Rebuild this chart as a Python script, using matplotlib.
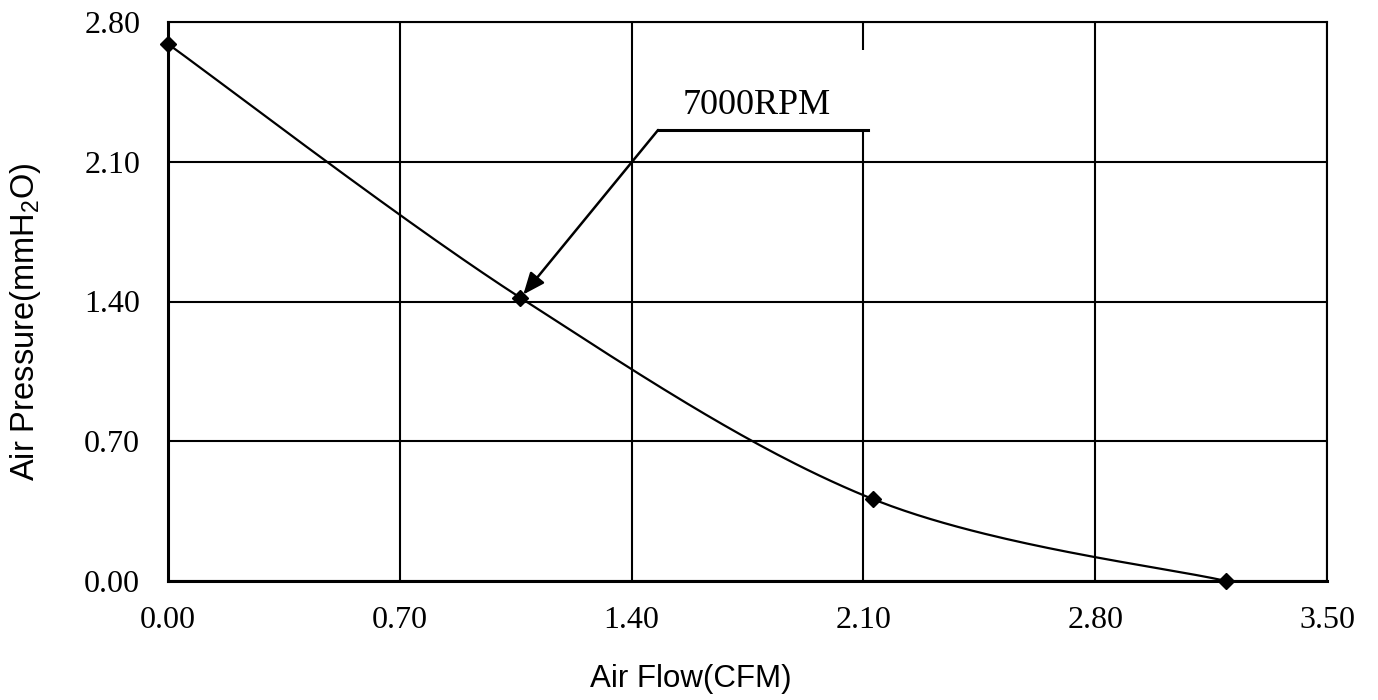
import numpy as np
import matplotlib
matplotlib.use("Agg")
import matplotlib.pyplot as plt
from matplotlib.patches import Rectangle

# fan curve
air_flow = [0.0, 1.063, 2.129, 3.195]
air_pressure = [2.69, 1.42, 0.41, 0.0]
x_ticks = [0.0, 0.70, 1.40, 2.10, 2.80, 3.50]
y_ticks = [0.0, 0.70, 1.40, 2.10, 2.80]
curve_label = "7000RPM"

plt.rcParams['mathtext.default'] = 'regular'


def smooth_curve(xs, ys, sx, sy, n=60):
    # excel style smoothed line (catmull-rom bezier) computed in screen units
    p = np.column_stack((np.array(xs) * sx, np.array(ys) * sy))
    out = [p[0]]
    for i in range(len(p) - 1):
        p0 = p[i - 1] if i > 0 else p[i]
        p1 = p[i]
        p2 = p[i + 1]
        p3 = p[i + 2] if i + 2 < len(p) else p[i + 1]
        c1 = p1 + (p2 - p0) / 6.0
        c2 = p2 - (p3 - p1) / 6.0
        t = np.linspace(0, 1, n)[1:, None]
        seg = ((1 - t) ** 3) * p1 + 3 * ((1 - t) ** 2) * t * c1 + 3 * (1 - t) * t ** 2 * c2 + t ** 3 * p2
        out.extend(seg)
    out = np.array(out)
    return out[:, 0] / sx, out[:, 1] / sy


fig = plt.figure(figsize=(13.78, 7.0), dpi=100)
ax = fig.add_axes([168 / 1378, 119 / 700, 1159 / 1378, 559 / 700])

ax.set_xlim(0, 3.5)
ax.set_ylim(0, 2.8)
ax.set_xticks(x_ticks)
ax.set_yticks(y_ticks)
ax.set_xticklabels(['%.2f' % v for v in x_ticks], fontfamily='Liberation Serif', fontsize=23)
ax.set_yticklabels(['%.2f' % v for v in y_ticks], fontfamily='Liberation Serif', fontsize=23)
ax.tick_params(axis='x', length=0, pad=18)
ax.tick_params(axis='y', length=0, pad=20)
ax.grid(True, color='black', linewidth=1.5)
ax.set_axisbelow(True)

for side in ['left', 'bottom']:
    ax.spines[side].set_linewidth(2.2)
for side in ['top', 'right']:
    ax.spines[side].set_linewidth(1.5)

cx, cy = smooth_curve(air_flow, air_pressure, 1159 / 3.5, 559 / 2.8)
ax.plot(cx, cy, color='black', linewidth=1.6, zorder=3, clip_on=False)
ax.plot(air_flow, air_pressure, linestyle='none', marker='D', markersize=8.5,
        color='black', zorder=4, clip_on=False)

# callout box with the speed label
ax.add_patch(Rectangle((1.404, 2.259), 0.71, 0.40, facecolor='white', edgecolor='none', zorder=2))
ax.text(1.779, 2.384, curve_label, fontfamily='Liberation Serif', fontsize=26,
        ha='center', va='center', zorder=5)
ax.plot([1.480, 2.114], [2.259, 2.259], color='black', linewidth=2.2, zorder=5)
ax.annotate('', xy=(air_flow[1] + 0.01, air_pressure[1] + 0.015), xytext=(1.480, 2.259),
            arrowprops=dict(arrowstyle='-|>,head_length=0.6,head_width=0.25', color='black', lw=1.8,
                            mutation_scale=22, shrinkA=0, shrinkB=0), zorder=5)

ax.set_xlabel('Air Flow(CFM)', fontfamily='Liberation Sans', fontsize=22.5)
ax.set_ylabel('Air Pressure(mmH$_2$O)', fontfamily='Liberation Sans', fontsize=23.5)
ax.xaxis.set_label_coords(0.451, -0.149)
ax.yaxis.set_label_coords(-0.108, 0.463)

fig.savefig('out.png', dpi=100)
